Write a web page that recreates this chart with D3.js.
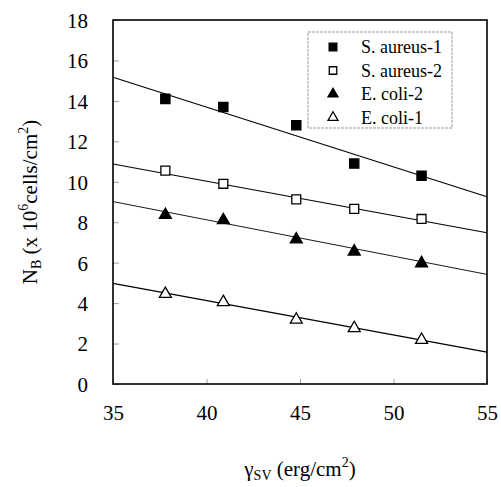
<!DOCTYPE html>
<html>
<head>
<meta charset="utf-8">
<script src="https://cdn.jsdelivr.net/npm/d3@7"></script>
</head>
<body style="margin:0">
<svg width="501" height="487"></svg>
<script>
const xValues = [37.8, 40.9, 44.8, 47.9, 51.5]
const seriesNames = ['S. aureus-1', 'S. aureus-2', 'E. coli-2', 'E. coli-1']
const aureus1 = [14.1, 13.7, 12.8, 10.9, 10.3]
const aureus2 = [10.55, 9.9, 9.13, 8.66, 8.16]
const coli2 = [8.36, 8.1, 7.15, 6.55, 5.97]
const coli1 = [4.45, 4.05, 3.18, 2.76, 2.18]
// fitted line values at x = 35 and x = 55
const fitAt35 = [15.17, 10.88, 9.02, 4.98]
const fitAt55 = [9.26, 7.48, 5.42, 1.58]
const xTicks = [35, 40, 45, 50, 55]
const yTicks = [0, 2, 4, 6, 8, 10, 12, 14, 16, 18]

const padLeft = 113, padRight = 487, padTop = 20, padBottom = 384
const fontName = 'Liberation Serif'

const svg = d3.select('svg')

const xScale = d3.scaleLinear().domain([35, 55]).range([padLeft, padRight])
const yScale = d3.scaleLinear().domain([0, 18]).range([padBottom, padTop])

const allSeries = [aureus1, aureus2, coli2, coli1]
const markers = [
  {shape: d3.symbolSquare, fill: '#000', size: 85},
  {shape: d3.symbolSquare, fill: '#fff', size: 80},
  {shape: d3.symbolTriangle, fill: '#000', size: 62},
  {shape: d3.symbolTriangle, fill: '#fff', size: 62}
]

// axes, ticks inward
const xAxis = d3.axisBottom(xScale).tickValues(xTicks).tickSize(-5).tickPadding(30)
const yAxis = d3.axisLeft(yScale).tickValues(yTicks).tickSize(-6).tickPadding(25)

const gx = svg.append('g').attr('transform', 'translate(0,' + padBottom + ')').call(xAxis)
const gy = svg.append('g').attr('transform', 'translate(' + padLeft + ',0)').call(yAxis)
;[gx, gy].forEach(g => {
  g.attr('font-family', fontName).attr('font-size', 21)
  g.select('.domain').remove()
  g.selectAll('.tick line').attr('stroke', '#888').attr('stroke-width', 0.8)
  g.selectAll('.tick text').attr('fill', '#000')
})
gy.selectAll('.tick text').attr('dy', '0.35em')
gx.selectAll('.tick text').attr('dy', '0.3em')

// frame
svg.append('rect')
  .attr('x', padLeft).attr('y', padTop)
  .attr('width', padRight - padLeft).attr('height', padBottom - padTop)
  .attr('fill', 'none').attr('stroke', '#000').attr('stroke-width', 1.6)

// fit lines
svg.selectAll('.fit')
  .data(seriesNames)
  .enter()
  .append('line')
  .attr('class', 'fit')
  .attr('x1', xScale(35)).attr('x2', xScale(55))
  .attr('y1', (d, i) => yScale(fitAt35[i]))
  .attr('y2', (d, i) => yScale(fitAt55[i]))
  .attr('stroke', '#000')
  .attr('stroke-width', (d, i) => i === 2 ? 0.9 : 1.2)

// points
allSeries.forEach((vals, i) => {
  const m = markers[i]
  svg.append('g').selectAll('path')
    .data(vals)
    .enter()
    .append('path')
    .attr('d', d3.symbol().type(m.shape).size(m.size))
    .attr('transform', (d, j) => 'translate(' + xScale(xValues[j]) + ',' + yScale(d) + ')')
    .attr('fill', m.fill)
    .attr('stroke', '#000')
    .attr('stroke-width', 1.3)
})

// legend
const legend = svg.append('g')
legend.append('rect')
  .attr('x', 308).attr('y', 32).attr('width', 144).attr('height', 96)
  .attr('fill', '#fff').attr('stroke', '#999').attr('stroke-width', 1)
  .attr('stroke-dasharray', '3,1')
seriesNames.forEach((name, i) => {
  const y = 47 + i * 23.5
  const m = markers[i]
  legend.append('path')
    .attr('d', d3.symbol().type(m.shape).size(m.size * 0.7))
    .attr('transform', 'translate(333,' + y + ')')
    .attr('fill', m.fill).attr('stroke', '#000').attr('stroke-width', 1.3)
  legend.append('text')
    .attr('x', 361).attr('y', y + 6)
    .attr('font-family', fontName).attr('font-size', 18)
    .text(name)
})

// axis titles
const xt = svg.append('text')
  .attr('x', 300).attr('y', 476)
  .attr('text-anchor', 'middle')
  .attr('font-family', fontName).attr('font-size', 21)
xt.append('tspan').text('γ')
xt.append('tspan').attr('dy', 4).attr('font-size', 14).text('SV')
xt.append('tspan').attr('dy', -4).text(' (erg/cm')
xt.append('tspan').attr('dy', -9).attr('font-size', 14).text('2')
xt.append('tspan').attr('dy', 9).text(')')

const yt = svg.append('text')
  .attr('transform', 'translate(37,' + ((padTop + padBottom) / 2) + ') rotate(-90)')
  .attr('text-anchor', 'middle')
  .attr('font-family', fontName).attr('font-size', 21)
yt.append('tspan').text('N')
yt.append('tspan').attr('dy', 4).attr('font-size', 14).text('B')
yt.append('tspan').attr('dy', -4).text(' (x 10')
yt.append('tspan').attr('dy', -9).attr('font-size', 14).text('6')
yt.append('tspan').attr('dy', 9).text('cells/cm')
yt.append('tspan').attr('dy', -9).attr('font-size', 14).text('2')
yt.append('tspan').attr('dy', 9).text(')')
</script>
</body>
</html>
